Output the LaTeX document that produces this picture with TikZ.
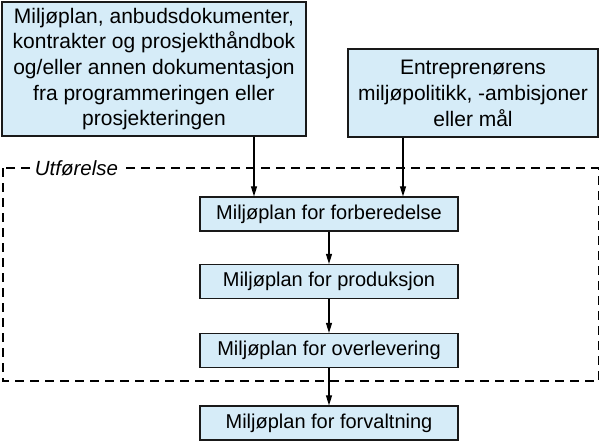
\documentclass[tikz,border=0pt]{standalone}
\usepackage{fontspec}
\setmainfont{Liberation Sans}
\usetikzlibrary{arrows.meta}
\definecolor{boxfill}{RGB}{214,236,248}
\begin{document}
\begin{tikzpicture}[x=1pt,y=-1pt,
  box/.style={draw=black!90, line width=1.2pt, fill=boxfill, inner sep=0pt, align=center},
  stepbox/.style={box, minimum width=258pt, minimum height=34pt, font=\fontsize{20}{24}\selectfont},
  arr/.style={-{Triangle[length=10pt,width=6pt]}, line width=1.1pt},
  frame/.style={line width=1.3pt, dash pattern=on 9pt off 6pt}]
\useasboundingbox (0,0) rectangle (600,442);
\draw[frame] (3,168) rectangle (598.5,381);
\node[fill=white, inner sep=3pt, font=\itshape\fontsize{20.5}{24}\selectfont] (lbl) at (76.5,168) {Utførelse};
\node[box, minimum width=304pt, minimum height=134pt, font=\fontsize{21}{25.7}\selectfont] (docs) at (154,69)
  {Miljøplan, anbudsdokumenter,\\kontrakter og prosjekthåndbok\\og/eller annen dokumentasjon\\fra programmeringen eller\\prosjekteringen};
\node[box, minimum width=250pt, minimum height=88pt, font=\fontsize{21}{26}\selectfont] (pol) at (473,93)
  {Entreprenørens\\miljøpolitikk, -ambisjoner\\eller mål};
\node[stepbox] (prep) at (329,214) {Miljøplan for forberedelse};
\node[stepbox] (prod) at (329,281.5) {Miljøplan for produksjon};
\node[stepbox] (over) at (329,350.5) {Miljøplan for overlevering};
\node[stepbox] (forv) at (329,423) {Miljøplan for forvaltning};
\coordinate (c1) at (254,0);
\coordinate (c2) at (403,0);
\draw[arr] (docs.south -| c1) -- (prep.north -| c1);
\draw[arr] (pol.south -| c2) -- (prep.north -| c2);
\draw[arr] (prep) -- (prod);
\draw[arr] (prod) -- (over);
\draw[arr] (over) -- (forv);
\end{tikzpicture}
\end{document}
